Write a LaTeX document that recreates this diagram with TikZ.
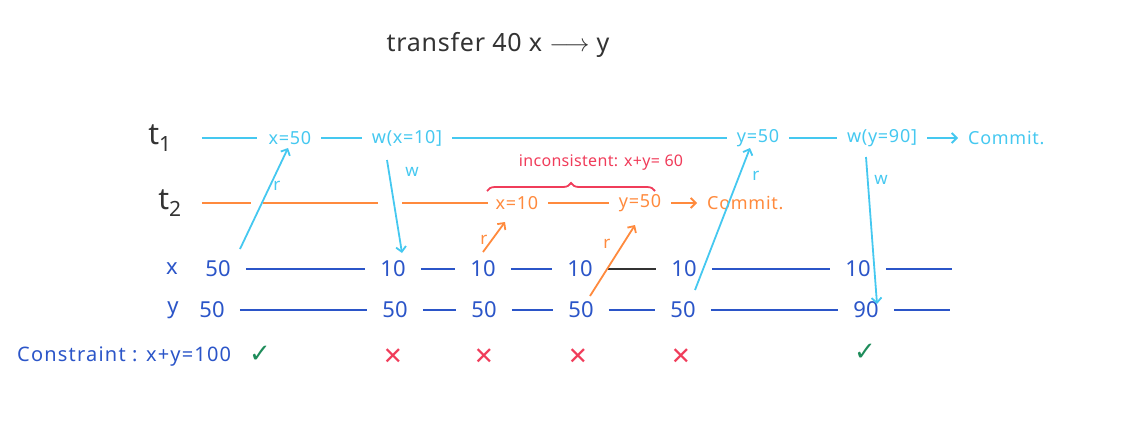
\documentclass[tikz,border=0pt]{standalone}
\usepackage{fontspec}
\setmainfont{Noto Sans}
\newfontfamily\symf{DejaVu Sans}
\usetikzlibrary{arrows.meta,decorations.pathreplacing}
\definecolor{cyn}{HTML}{45C8F0}
\definecolor{org}{HTML}{FF8A3D}
\definecolor{vblue}{HTML}{2B55C8}
\definecolor{rd}{HTML}{F03C5A}
\definecolor{grn}{HTML}{1E8C5A}
\definecolor{drk}{HTML}{333333}
\begin{document}
\begin{tikzpicture}[x=1pt,y=-1pt,
  tlab/.style={inner sep=0pt,text=drk,font=\fontsize{30}{32}\selectfont},
  ct/.style={inner sep=0pt,text=cyn,font=\fontsize{18}{20}\selectfont\addfontfeature{LetterSpace=4}},
  co/.style={inner sep=0pt,text=org,font=\fontsize{18}{20}\selectfont\addfontfeature{LetterSpace=4}},
  val/.style={inner sep=0pt,text=vblue,font=\fontsize{22}{24}\selectfont},
  small/.style={inner sep=0pt,font=\fontsize{17}{19}\selectfont},
  cl/.style={cyn,line width=1.8pt},
  ol/.style={org,line width=1.8pt},
  bl/.style={vblue,line width=1.8pt,shorten <=15pt,shorten >=15pt},
  seg/.style={shorten <=10pt,shorten >=10pt},
  tip/.style={-{Straight Barb[length=5pt,width=10pt]}},
  xm/.style={inner sep=0pt,text=rd,font=\symf\fontsize{24}{26}\selectfont},
  ck/.style={inner sep=0pt,text=grn,font=\symf\fontsize{26}{28}\selectfont}]
\useasboundingbox (0,0) rectangle (1132,429);

% title
\node[inner sep=0pt,text=drk,font=\fontsize{25}{27}\selectfont\addfontfeature{LetterSpace=3}] (title) at (498,45) {transfer 40 x $\longrightarrow$ y};

% t1 row
\node[tlab] (t1) at (160,138) {t\textsubscript{1}};
\node[ct] (a1) at (290,138) {x=50};
\node[ct] (a2) at (407,138) {w(x=10]};
\node[ct] (a3) at (758,138) {y=50};
\node[ct] (a4) at (882,138) {w(y=90]};
\node[ct,anchor=west] (a5) at (968,138) {Commit.};
\draw[cl,shorten <=30pt,shorten >=12pt] (t1) -- (a1);
\draw[cl,seg] (a1) -- (a2);
\draw[cl,seg] (a2) -- (a3);
\draw[cl,seg] (a3) -- (a4);
\draw[cl,seg,tip] (a4) -- (a5);

% t2 row
\node[tlab] (t2) at (170,203) {t\textsubscript{2}};
\node[co] (b1) at (517,203) {x=10};
\node[co] (b2) at (640,203) {y=50};
\node[co,anchor=west] (b3) at (707,203) {Commit.};
\coordinate (g1) at (257,203);
\coordinate (g2) at (390,203);
\draw[ol,shorten <=20pt,shorten >=6pt] (t2) -- (g1);
\draw[ol,shorten <=6pt,shorten >=12pt] (g1) -- (g2);
\draw[ol,shorten <=12pt,shorten >=8pt] (g2) -- (b1);
\draw[ol,seg] (b1) -- (b2);
\draw[ol,seg,tip] (b2) -- (b3);

% brace
\coordinate (bl0) at (487,191);
\coordinate (br0) at (655,191);
\draw[rd,line width=1.8pt,decorate,decoration={brace,amplitude=8pt}] (bl0) -- (br0);
\node[small,text=rd,font=\fontsize{16}{18}\selectfont\addfontfeature{LetterSpace=2}] (inc) at (601,163) {inconsistent: x+y= 60};

% x row
\node[val] (xl) at (172,269) {x};
\node[val] (x0) at (218,269) {50};
\node[val] (x1) at (393,269) {10};
\node[val] (x2) at (483,269) {10};
\node[val] (x3) at (580,269) {10};
\node[val] (x4) at (684,269) {10};
\node[val] (x5) at (858,269) {10};
\coordinate (xe) at (967,269);
\draw[bl] (x0) -- (x1);
\draw[bl] (x1) -- (x2);
\draw[bl] (x2) -- (x3);
\draw[bl,drk] (x3) -- (x4);
\draw[bl] (x4) -- (x5);
\draw[bl] (x5) -- (xe);

% y row
\node[val] (yl) at (173,310) {y};
\node[val] (y0) at (212,310) {50};
\node[val] (y1) at (395,310) {50};
\node[val] (y2) at (484,310) {50};
\node[val] (y3) at (581,310) {50};
\node[val] (y4) at (683,310) {50};
\node[val] (y5) at (866,310) {90};
\coordinate (ye) at (965,310);
\draw[bl] (y0) -- (y1);
\draw[bl] (y1) -- (y2);
\draw[bl] (y2) -- (y3);
\draw[bl] (y3) -- (y4);
\draw[bl] (y4) -- (y5);
\draw[bl] (y5) -- (ye);

% read / write arrows
\draw[cl,tip] ([shift={(22,-20)}]x0.center) -- ([shift={(-2,10)}]a1.center);
\draw[cl,tip] ([shift={(-20,22)}]a2.center) -- ([shift={(9,-16)}]x1.center);
\draw[ol,tip] ([shift={(0,-17)}]x2.center) -- ([shift={(-12,19)}]b1.center);
\draw[ol,tip] ([shift={(9,-14)}]y3.center) -- ([shift={(-5,22)}]b2.center);
\draw[cl,tip] ([shift={(12,-20)}]y4.center) -- ([shift={(-8,10)}]a3.center);
\draw[cl,tip] ([shift={(-16,19)}]a4.center) -- ([shift={(11,-6)}]y5.center);

\node[small,text=cyn] (r1) at (277,186) {r};
\node[small,text=cyn] (w1) at (412,172) {w};
\node[small,text=org] (r2) at (484,240) {r};
\node[small,text=org] (r3) at (607,244) {r};
\node[small,text=cyn] (r4) at (756,176) {r};
\node[small,text=cyn] (w2) at (881,180) {w};

% constraint row
\node[inner sep=0pt,anchor=west,text=vblue,font=\fontsize{20}{22}\selectfont\addfontfeature{LetterSpace=6}] (con) at (17,357) {Constraint : x+y=100};
\node[ck,anchor=west] (ck0) at (249,354) {✓};
\node[xm] (m1) at (393,357) {✕};
\node[xm] (m2) at (484,357) {✕};
\node[xm] (m3) at (578,357) {✕};
\node[xm] (m4) at (681,357) {✕};
\node[ck] (ck1) at (865,352) {✓};
\end{tikzpicture}
\end{document}
